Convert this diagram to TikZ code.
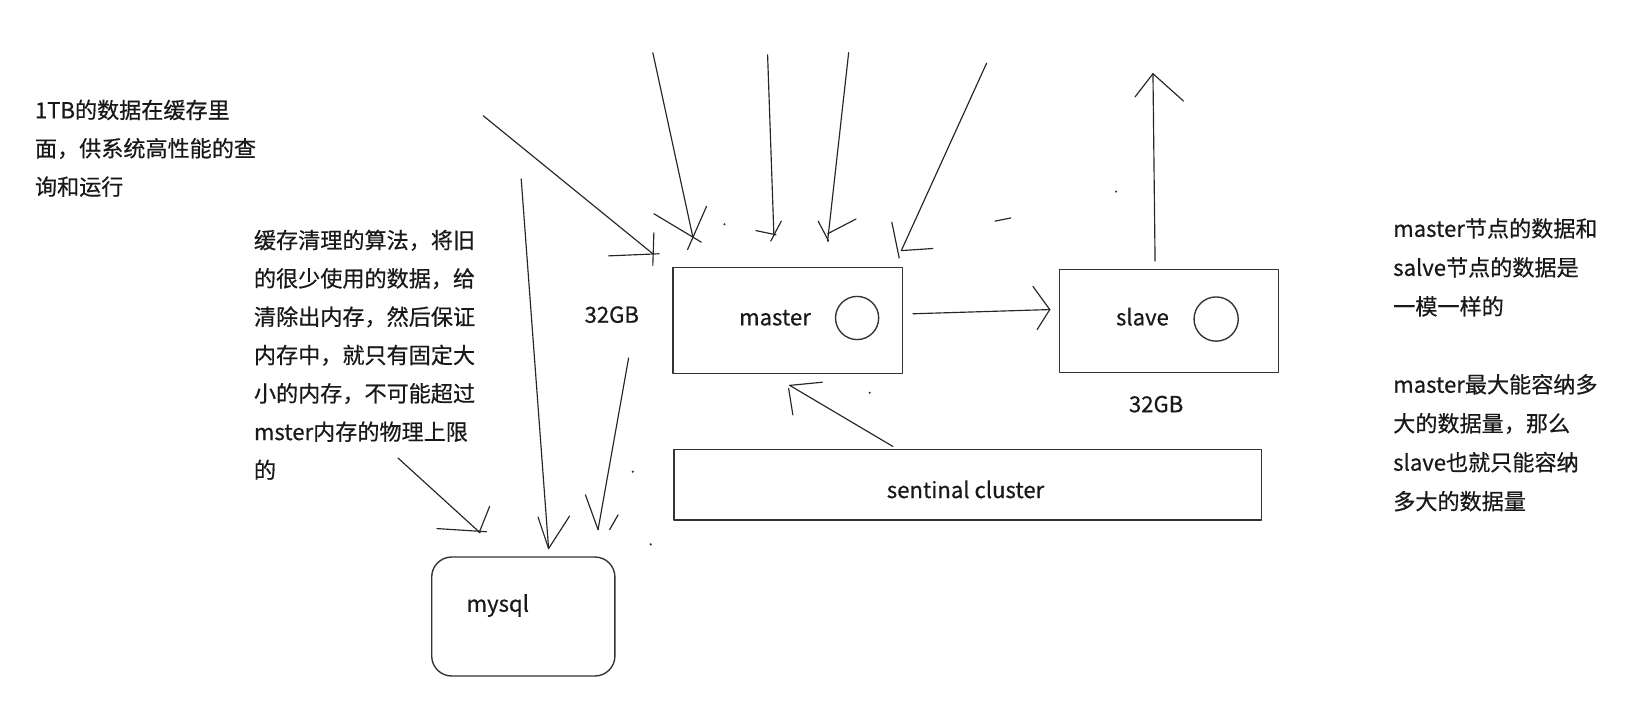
\documentclass[tikz,border=0pt]{standalone}
\usepackage{fontspec}
\setmainfont{Noto Sans CJK SC}[FakeBold=0.5]
\begin{document}
\begin{tikzpicture}[x=1pt,y=-1pt,line cap=round,line join=round,
  ink/.style={line width=1.1pt,draw=black!85},
  box/.style={draw=black!80,line width=1.3pt,inner sep=0pt},
  lbl/.style={font=\fontsize{21}{36.4}\selectfont,inner sep=0pt,text=black!90},
  note/.style={lbl,align=left,anchor=north west},
  speck/.style={fill=black!80,circle,inner sep=0pt,minimum size=2.2pt}]
\fill[white] (0,0) rectangle (1568,665);
\path[use as bounding box] (0,0) rectangle (1568,665);

% notes
\node[note] (note1) at (33,94.5) {1TB的数据在缓存里\\面，供系统高性能的查\\询和运行};
\node[note] (note2) at (241,218) {缓存清理的算法，将旧\\的很少使用的数据，给\\清除出内存，然后保证\\内存中，就只有固定大\\小的内存，不可能超过\\mster内存的物理上限\\的};
\node[note,font=\fontsize{21}{37}\selectfont] (note3) at (1323,207) {master节点的数据和\\salve节点的数据是\\一模一样的};
\node[note,font=\fontsize{21}{37}\selectfont] (note4) at (1323,355) {master最大能容纳多\\大的数据量，那么\\slave也就只能容纳\\多大的数据量};

% boxes
\node[box,minimum width=218pt,minimum height=101pt] (master) at (748,304.5) {};
\node[lbl,anchor=base] (mastertxt) at (736,309) {master};
\node[box,circle,minimum size=41pt] (mcirc) at (814,302) {};
\node[box,minimum width=208pt,minimum height=98pt] (slave) at (1110,305) {};
\node[lbl,anchor=base] (slavetxt) at (1085,309) {slave};
\node[box,circle,minimum size=42pt] (scirc) at (1155,303) {};
\node[box,minimum width=558pt,minimum height=67pt] (sentinel) at (919,460.5) {};
\node[lbl,anchor=base] (sentineltxt) at (917,473) {sentinal cluster};
\node[box,rounded corners=19pt,minimum width=174pt,minimum height=113pt] (mysql) at (497,585.5) {};
\node[lbl,anchor=base west] (mysqltxt) at (443,581) {mysql};
\node[lbl,anchor=base] (gbA) at (581,306.5) {32GB};
\node[lbl,anchor=base] (gbB) at (1098,391.5) {32GB};

% end points of the hand drawn strokes
\coordinate (a1) at (459,110); \coordinate (a2) at (620,241);
\coordinate (b1) at (620,50);  \coordinate (b2) at (658,225);
\coordinate (c1) at (729,52);  \coordinate (c2) at (735,224);
\coordinate (d1) at (806,50);  \coordinate (d2) at (786,229);
\coordinate (e1) at (937,60);  \coordinate (e2) at (856,238);
\coordinate (s1) at (1097,248); \coordinate (s2) at (1095,70);
\coordinate (m1) at (867,298); \coordinate (m2) at (997,294);
\coordinate (t1) at (848,424); \coordinate (t2) at (750,366);
\coordinate (q1) at (495,170); \coordinate (q2) at (521,521);
\coordinate (r1) at (597,340); \coordinate (r2) at (568,503);
\coordinate (u1) at (378,435); \coordinate (u2) at (456,506);

% top arrows
\draw[ink] (a1) -- (a2);
\draw[ink] (578,243) -- (626,241);
\draw[ink] (621,221) -- (620,252);
\draw[ink] (b1) -- (b2);
\draw[ink] (621,203) -- (666,230);
\draw[ink] (671,196) -- (653,237);
\draw[ink] (c1) -- (c2);
\draw[ink] (718,219) -- (737,223);
\draw[ink] (742,210) -- (732,229);
\draw[ink] (d1) -- (d2);
\draw[ink] (777,210) -- (787,229);
\draw[ink] (813,208) -- (786,222);
\draw[ink] (e1) -- (e2);
\draw[ink] (847,211) -- (854,245);
\draw[ink] (e2) -- (886,236);

% slave upward arrow
\draw[ink] (s1) -- (s2);
\draw[ink] (1078,92) -- (s2) -- (1124,96);

% master -> slave
\draw[ink] (m1) -- (m2);
\draw[ink] (981,272) -- (m2) -- (985,313);

% sentinel -> master
\draw[ink] (t1) -- (t2);
\draw[ink] (t2) -- (781,363);
\draw[ink] (749,369) -- (753,394);

% arrows to mysql
\draw[ink] (q1) -- (q2);
\draw[ink] (511,491) -- (q2) -- (541,490);
\draw[ink] (r1) -- (r2);
\draw[ink] (556,470) -- (r2);
\draw[ink] (587,489) -- (579,503);
\draw[ink] (u1) -- (u2);
\draw[ink] (465,481) -- (455,506);
\draw[ink] (415,502) -- (462,505);

% stray marks
\draw[ink] (945,210) -- (960,207);
\node[speck] (dot1) at (688,213) {};
\node[speck] (dot2) at (1060,182) {};
\node[speck] (dot3) at (826,373) {};
\node[speck] (dot4) at (601,448) {};
\node[speck] (dot5) at (618,517) {};
\end{tikzpicture}
\end{document}
